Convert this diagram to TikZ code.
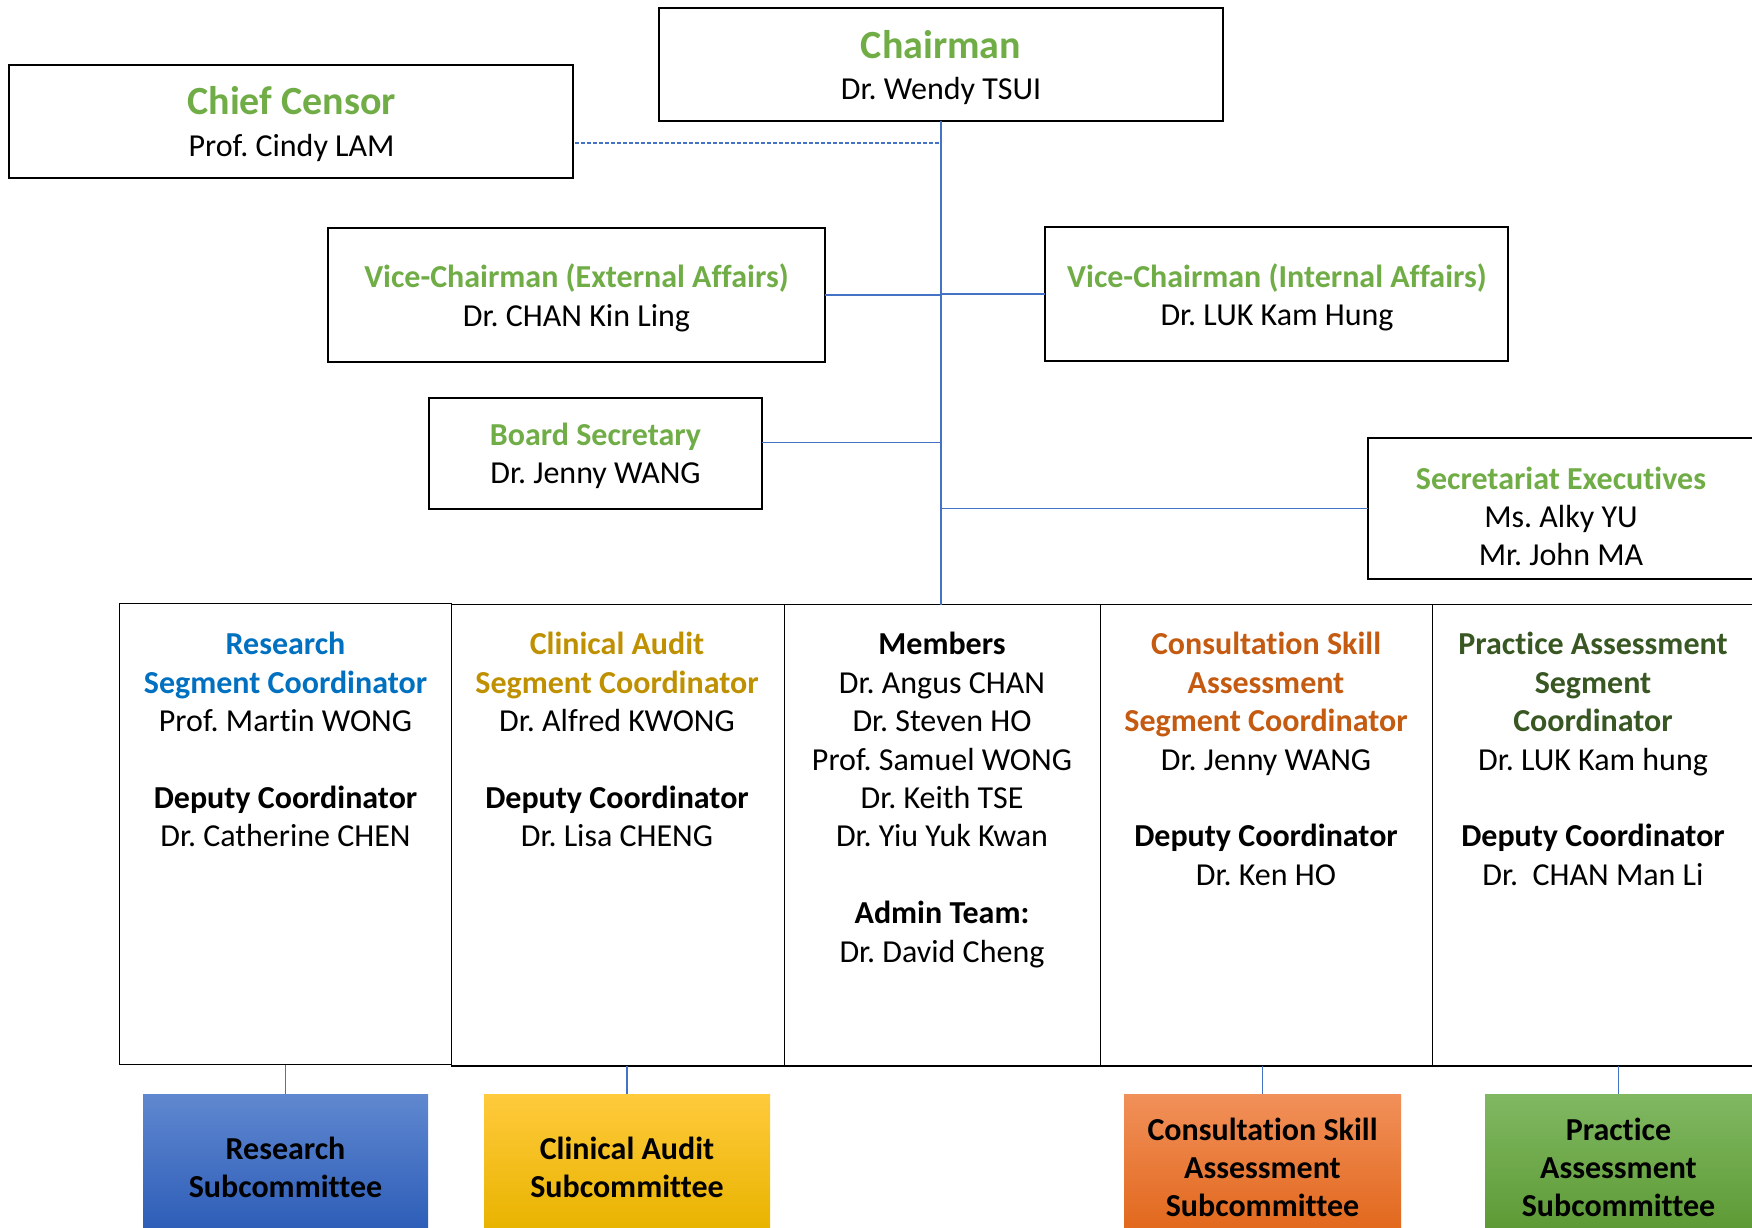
\documentclass[tikz,border=0pt]{standalone}
\usepackage{fontspec}
\setmainfont{Carlito}[Ligatures=NoCommon]
\frenchspacing
\usetikzlibrary{fit,calc}
\definecolor{tgreen}{HTML}{70AD47}
\definecolor{cblue}{HTML}{0070C0}
\definecolor{cgold}{HTML}{BF9000}
\definecolor{corange}{HTML}{C55A11}
\definecolor{cdkgreen}{HTML}{385723}
\definecolor{lineblue}{HTML}{4472C4}
\newcommand\hdBlue[1]{\textcolor{cblue}{\bfseries #1}}
\newcommand\hdGold[1]{\textcolor{cgold}{\bfseries #1}}
\newcommand\hdOrange[1]{\textcolor{corange}{\bfseries #1}}
\newcommand\hdDkGreen[1]{\textcolor{cdkgreen}{\bfseries #1}}
\newcommand\hdBlack[1]{\textbf{#1}}
\begin{document}
\begin{tikzpicture}[x=0.5pt,y=-0.5pt,
  boxst/.style={rectangle, draw=black, line width=0.65pt, inner sep=0pt, outer sep=0pt},
  subst/.style={rectangle, inner sep=0pt, outer sep=0pt},
  conn/.style={draw=lineblue, line width=0.6pt},
  connw/.style={draw=lineblue, line width=0.9pt},
  t16/.style={font=\fontsize{16}{19.2}\selectfont, anchor=base, inner sep=0pt},
  ttl/.style={font=\fontsize{16}{19.2}\selectfont\bfseries, text=tgreen},
  t20/.style={font=\fontsize{20}{24}\selectfont\bfseries, anchor=base, inner sep=0pt, text=tgreen},
  coltxt/.style={font=\fontsize{16}{19.2}\selectfont, align=center, anchor=north, inner sep=0pt},
  subtxt/.style={font=\fontsize{16}{19}\selectfont\bfseries, align=center, anchor=north, inner sep=0pt}]
\fill[white] (0,0) rectangle (1752,1227);
\useasboundingbox (0,0) rectangle (1752,1227);

% top boxes
\node[boxst, fit={(659,8) (1223,121)}] (chair) {};
\node[boxst, fit={(9,65) (573,178)}] (censor) {};
\node[boxst, fit={(328,228) (825,362)}] (vext) {};
\node[boxst, fit={(1045,227) (1508,361)}] (vint) {};
\node[boxst, fit={(429,398) (762,509)}] (bsec) {};
\node[boxst, fit={(1368,438) (1775,579)}] (secx) {};

% columns
\node[boxst, fit={(119.5,603.4) (451.4,1064.8)}] (c1) {};
\node[boxst, fit={(451.4,604.5) (784.4,1066)}] (c2) {};
\node[boxst, fit={(784.4,604.5) (1100.5,1066)}] (c3) {};
\node[boxst, fit={(1100.5,604.5) (1432.4,1066)}] (c4) {};
\node[boxst, fit={(1432.4,604.5) (1775,1066)}] (c5) {};

% subcommittee boxes
\node[subst, top color={rgb,255:red,96;green,136;blue,208}, middle color={rgb,255:red,68;green,114;blue,196}, bottom color={rgb,255:red,46;green,94;blue,184}, fit={(143,1094) (428,1227)}] (s1) {};
\node[subst, top color={rgb,255:red,255;green,202;blue,60}, middle color={rgb,255:red,255;green,192;blue,0}, bottom color={rgb,255:red,233;green,180;blue,0}, fit={(484,1094) (770,1227)}] (s2) {};
\node[subst, top color={rgb,255:red,241;green,144;blue,90}, middle color={rgb,255:red,240;green,125;blue,49}, bottom color={rgb,255:red,226;green,105;blue,30}, fit={(1124,1094) (1401,1227)}] (s4) {};
\node[subst, top color={rgb,255:red,128;green,184;blue,98}, middle color={rgb,255:red,112;green,173;blue,71}, bottom color={rgb,255:red,94;green,155;blue,54}, fit={(1485,1094) (1752,1227)}] (s5) {};

% connectors
\draw[conn] (chair.south) -- (chair.south |- c3.north);
\draw[conn] (vext.east) -- (vext.east -| chair.south);
\draw[connw] (vint.west) -- (vint.west -| chair.south);
\coordinate (bsecp) at ($(bsec.north east)!0.4!(bsec.south east)$);
\draw[connw] (bsecp) -- (bsecp -| chair.south);
\draw[connw] (secx.west) -- (secx.west -| chair.south);
\coordinate (cenp) at ($(censor.north east)!0.69!(censor.south east)$);
\draw[conn, dash pattern=on 2pt off 1pt] ([xshift=1pt]cenp) -- (cenp -| chair.south);
\draw[conn] (s1.north) -- (s1.north |- c1.south);
\draw[conn] (s2.north) -- (s2.north |- c2.south);
\draw[conn] (s4.north) -- (s4.north |- c4.south);
\draw[conn] (s5.north) -- (s5.north |- c5.south);

% top texts
\node[t20] (chairT) at (941,58.8) {Chairman};
\node[t16] (chairN) at (941,99.3) {Dr. Wendy TSUI};
\node[t20] (censT) at (291.6,114.7) {Chief Censor};
\node[t16] (censN) at (291.6,156.3) {Prof. Cindy LAM};
\node[t16, ttl] (vextT) at (576.5,287) {Vice-Chairman (External Affairs)};
\node[t16] (vextN) at (576.5,326) {Dr. CHAN Kin Ling};
\node[t16, ttl] (vintT) at (1277,287) {Vice-Chairman (Internal Affairs)};
\node[t16] (vintN) at (1277,325) {Dr. LUK Kam Hung};
\node[t16, ttl] (bsecT) at (595.5,445.6) {Board Secretary};
\node[t16] (bsecN) at (595.5,483.6) {Dr. Jenny WANG};
\node[t16, ttl] (secxT) at (1561,489) {Secretariat Executives};
\node[t16] (secxN1) at (1561,527) {Ms. Alky YU};
\node[t16] (secxN2) at (1561,565) {Mr. John MA};

% column texts
\node[coltxt] (c1t) at (285.5,627.7) {\strut\hdBlue{Research}\\\hdBlue{Segment Coordinator}\\Prof. Martin WONG\\\mbox{}\\\hdBlack{Deputy Coordinator}\\Dr. Catherine CHEN};
\node[coltxt] (c2t) at (617,627.7) {\strut\hdGold{Clinical Audit}\\\hdGold{Segment Coordinator}\\Dr. Alfred KWONG\\\mbox{}\\\hdBlack{Deputy Coordinator}\\Dr. Lisa CHENG};
\node[coltxt] (c3t) at (942,627.7) {\strut\hdBlack{Members}\\Dr. Angus CHAN\\Dr. Steven HO\\Prof. Samuel WONG\\Dr. Keith TSE\\Dr. Yiu Yuk Kwan\\\mbox{}\\\hdBlack{Admin Team:}\\Dr. David Cheng};
\node[coltxt] (c4t) at (1266,627.7) {\strut\hdOrange{Consultation Skill}\\\hdOrange{Assessment}\\\hdOrange{Segment Coordinator}\\Dr. Jenny WANG\\\mbox{}\\\hdBlack{Deputy Coordinator}\\Dr. Ken HO};
\node[coltxt] (c5t) at (1593,627.7) {\strut\hdDkGreen{Practice Assessment}\\\hdDkGreen{Segment}\\\hdDkGreen{Coordinator}\\Dr. LUK Kam hung\\\mbox{}\\\hdBlack{Deputy Coordinator}\\Dr.\ \ CHAN Man Li};

% subcommittee texts
\node[subtxt] (s1t) at (285.5,1132.7) {\strut Research\\Subcommittee};
\node[subtxt] (s2t) at (627,1132.7) {\strut Clinical Audit\\Subcommittee};
\node[subtxt] (s4t) at (1262.5,1113.7) {\strut Consultation Skill\\Assessment\\Subcommittee};
\node[subtxt] (s5t) at (1618.5,1113.7) {\strut Practice\\Assessment\\Subcommittee};
\end{tikzpicture}
\end{document}
